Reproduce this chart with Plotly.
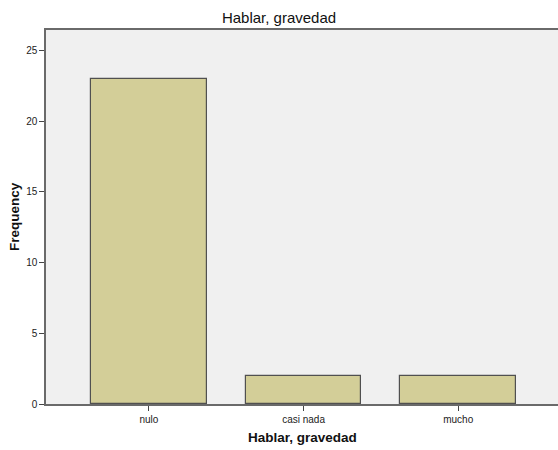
import plotly.graph_objects as go

categories = ["nulo", "casi nada", "mucho"]
frequencies = [23, 2, 2]
y_ticks = [0, 5, 10, 15, 20, 25]

fig = go.Figure(go.Bar(
    x=categories,
    y=frequencies,
    width=0.748,
    marker=dict(color="#D3CE98", line=dict(color="#505050", width=1.2)),
    hoverinfo="skip",
))

fig.update_layout(
    width=558, height=450,
    margin=dict(l=46, r=0, t=30, b=46, autoexpand=False),
    paper_bgcolor="white",
    plot_bgcolor="#F0F0F0",
    font=dict(family="Liberation Sans, Arial, sans-serif", color="#222222"),
    title=dict(text="Hablar, gravedad", x=0.5, xanchor="center", xref="container",
               y=1 - 18/450, yanchor="middle",
               font=dict(size=15, color="#111111")),
    showlegend=False,
    bargap=0,
    annotations=[
        dict(text="<b>Hablar, gravedad</b>", xref="paper", yref="paper",
             x=0.5, y=-34/374, xanchor="center", yanchor="middle",
             showarrow=False, font=dict(size=13.5, color="#111111")),
        dict(text="<b>Frequency</b>", xref="paper", yref="paper",
             x=-32/512, y=0.5, xanchor="center", yanchor="middle", textangle=-90,
             showarrow=False, font=dict(size=13.5, color="#111111")),
    ],
)
fig.update_xaxes(
    range=[-0.665, 2.645],
    automargin=False,
    showline=True, linecolor="#6a6a6a", linewidth=1.5, mirror=True,
    ticks="outside", ticklen=5, tickcolor="#444444",
    tickfont=dict(size=10),
    showgrid=False,
)
fig.update_yaxes(
    range=[0, 26.45],
    automargin=False,
    tickvals=y_ticks,
    showline=True, linecolor="#6a6a6a", linewidth=1.5,
    ticks="outside", ticklen=5, tickcolor="#444444",
    tickfont=dict(size=10),
    showgrid=False, zeroline=False,
)

fig.write_html("out.html", config={"displayModeBar": False},
               post_script="document.body.style.margin='0';document.body.style.overflow='hidden';")
